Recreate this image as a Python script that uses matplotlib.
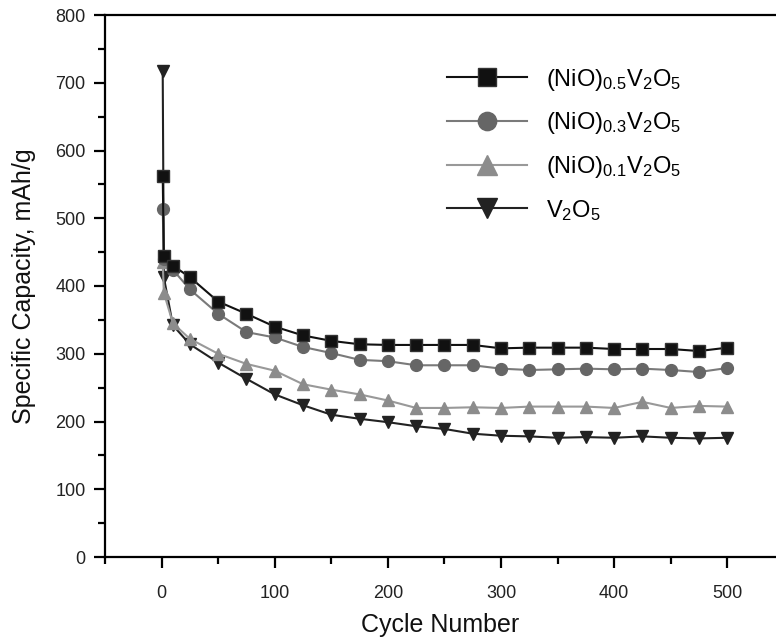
# coding: utf-8
import matplotlib
matplotlib.use("Agg")
import matplotlib.pyplot as plt
from matplotlib.ticker import MultipleLocator

plt.rcParams['font.family'] = ['Liberation Sans', 'DejaVu Sans']
plt.rcParams['mathtext.fontset'] = 'custom'
plt.rcParams['mathtext.rm'] = 'Liberation Sans'
plt.rcParams['mathtext.it'] = 'Liberation Sans:italic'

# data
cycles = [1, 2, 10, 25, 50, 75, 100, 125, 150, 175, 200, 225, 250, 275,
          300, 325, 350, 375, 400, 425, 450, 475, 500]
nio05 = [563, 445, 430, 413, 377, 359, 340, 327, 319, 314, 313, 313, 313, 313,
         308, 309, 309, 309, 307, 307, 307, 304, 309]
nio03 = [513, 440, 424, 395, 359, 332, 324, 310, 301, 291, 289, 283, 283, 283,
         278, 276, 277, 278, 277, 278, 276, 273, 279]
nio01 = [436, 390, 345, 322, 300, 285, 275, 255, 247, 240, 231, 220, 220, 221,
         220, 222, 222, 222, 220, 229, 220, 223, 222]
v2o5 = [718, 413, 342, 314, 287, 263, 240, 224, 210, 204, 199, 193, 189, 182,
        179, 178, 176, 177, 176, 178, 176, 175, 176]

labels = [r'(NiO)$_{0.5}$V$_2$O$_5$', r'(NiO)$_{0.3}$V$_2$O$_5$',
          r'(NiO)$_{0.1}$V$_2$O$_5$', r'V$_2$O$_5$']

fig = plt.figure(figsize=(7.76, 6.38), dpi=100)
ax = fig.add_axes([105/776, 81/638, 671/776, 542/638])

# draw V2O5 first so the others sit on top
l4, = ax.plot(cycles, v2o5, color='#222222', lw=1.5, marker='v', ms=9, mfc='#222222', mec='#222222')
l3, = ax.plot(cycles, nio01, color='#999999', lw=1.5, marker='^', ms=9, mfc='#8c8c8c', mec='#8c8c8c')
l2, = ax.plot(cycles, nio03, color='#7a7a7a', lw=1.5, marker='o', ms=8.5, mfc='#666666', mec='#666666')
l1, = ax.plot(cycles, nio05, color='#111111', lw=1.5, marker='s', ms=8, mfc='#111111', mec='#333333')

ax.set_xlim(-50, 543)
ax.set_ylim(0, 800)
ax.xaxis.set_major_locator(MultipleLocator(100))
ax.xaxis.set_minor_locator(MultipleLocator(50))
ax.yaxis.set_major_locator(MultipleLocator(100))
ax.yaxis.set_minor_locator(MultipleLocator(50))

for s in ['left', 'bottom', 'top']:
    ax.spines[s].set_linewidth(1.6)
ax.spines['right'].set_visible(False)
ax.tick_params(which='major', direction='out', length=8, width=1.6, labelsize=13,
               labelcolor='#222222', pad=6)
ax.tick_params(which='minor', direction='out', length=5, width=1.6)
ax.tick_params(axis='x', top=False, which='both')
ax.tick_params(axis='x', which='major', pad=12)

ax.set_xlabel('Cycle Number', fontsize=18, labelpad=8, color='#111111')
ax.set_ylabel('Specific Capacity, mAh/g', fontsize=18, labelpad=14, color='#111111')

ax.legend([l1, l2, l3, l4], labels, loc='upper left', bbox_to_anchor=(0.478, 0.944),
          frameon=False, fontsize=17, markerscale=1.55, handlelength=3.4,
          handletextpad=0.8, labelspacing=0.75)

fig.savefig('out.png', dpi=100)
